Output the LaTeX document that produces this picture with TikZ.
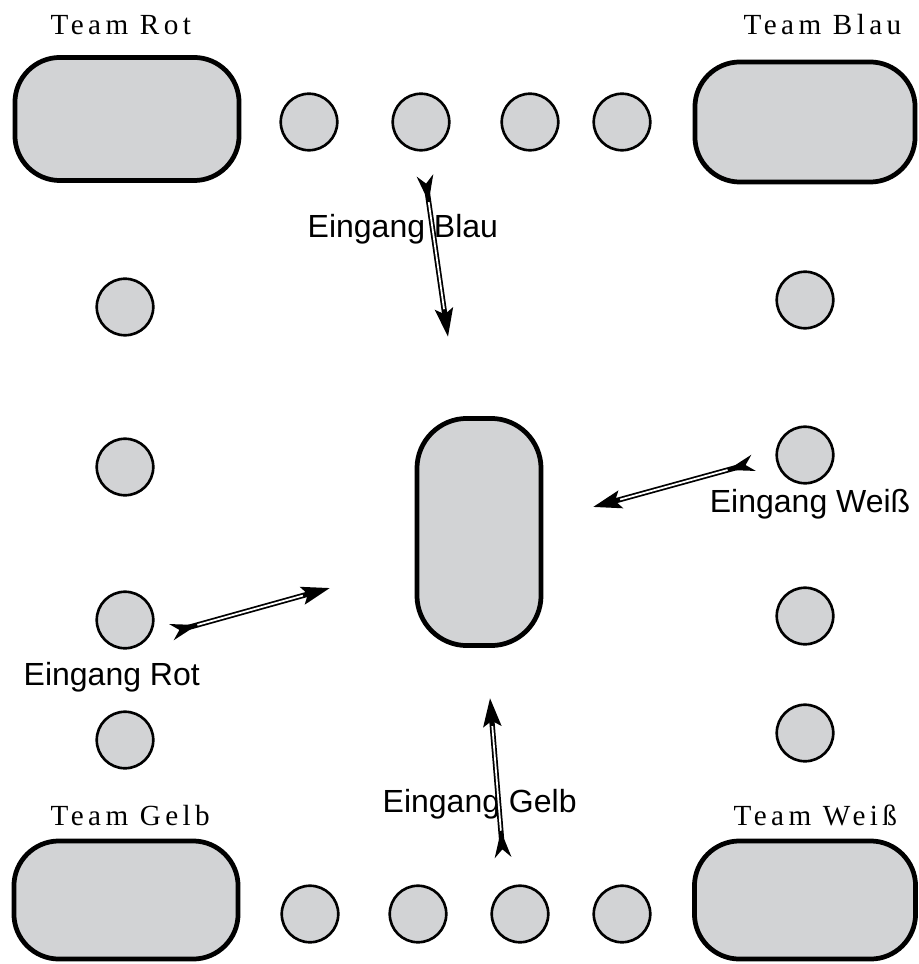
\documentclass[tikz,border=0pt]{standalone}
\usepackage{fontspec}
\usetikzlibrary{arrows.meta}
\newfontfamily\labelfont{Liberation Sans}
\newfontfamily\teamfont[LetterSpace=15]{Liberation Serif}
\definecolor{seatgray}{RGB}{210,211,213}

\begin{document}
\begin{tikzpicture}[x=0.01cm,y=-0.01cm,
    team/.style={draw, line width=1.35pt, fill=seatgray, rounded corners=0.45cm,
      minimum width=2.24cm, minimum height=1.23cm, inner sep=0pt},
    seat/.style={circle, draw, line width=0.75pt, fill=seatgray,
      minimum size=0.565cm, inner sep=0pt},
    teamname/.style={anchor=base west, inner sep=0pt,
      font=\teamfont\fontsize{8.3}{10}\selectfont},
    entryname/.style={anchor=base west, inner sep=0pt,
      font=\labelfont\fontsize{9.1}{11}\selectfont},
    entry/.style={line width=1.5pt,
      arrows={Stealth[reversed,length=7.5pt,width=4.6pt,inset=2.2pt]-Stealth[length=8pt,width=5pt,inset=1.5pt]}},
    entrygap/.style={white, line width=0.5pt, shorten <=7.5pt, shorten >=8pt}]
            \useasboundingbox (0,0) rectangle (919,964);
            % Tische der Teams
            \node[team] (rot) at (127,119) {};
            \node[team, minimum width=2.20cm, minimum height=1.20cm] (blau) at (805,122) {};
            \node[team, minimum height=1.18cm] (gelb) at (126,900) {};
            \node[team, minimum width=2.21cm, minimum height=1.18cm] (weiss) at (805,900) {};
            \node[team, rounded corners=0.5cm, minimum width=1.24cm, minimum height=2.27cm] (mitte) at (479,532) {};
            % Plaetze
            \foreach \x [count=\i] in {309,421,530,622}
                \node[seat] (oben\i) at (\x,122) {};
            \foreach \x [count=\i] in {310,418,520,622}
                \node[seat] (unten\i) at (\x,914) {};
            \foreach \y [count=\i] in {307,467,620,740}
                \node[seat] (links\i) at (125,\y) {};
            \foreach \y [count=\i] in {300,455,616,733}
                \node[seat] (rechts\i) at (805,\y) {};
            % Beschriftungen
            \node[teamname] (tRot) at (50,35) {Team Rot};
            \node[teamname] (tBlau) at (743,35) {Team Blau};
            \node[teamname] (tGelb) at (50,825) {Team Gelb};
            \node[teamname] (tWeiss) at (733,825) {Team Weiß};
            \node[entryname] (eBlau) at (307,238) {Eingang Blau};
            \node[entryname] (eRot) at (23,685) {Eingang Rot};
            \node[entryname, anchor=base east] (eWeiss) at (911,512) {Eingang Weiß};
            \node[entryname] (eGelb) at (382,812) {Eingang Gelb};
            % Eingaenge
            \coordinate (blauA) at (425,176);
            \coordinate (blauB) at (448,337);
            \coordinate (rotA) at (172,632);
            \coordinate (rotB) at (330,588);
            \coordinate (weissA) at (753,463);
            \coordinate (weissB) at (593,507);
            \coordinate (gelbA) at (503,857);
            \coordinate (gelbB) at (490,698);
            \foreach \e in {blau,rot,weiss,gelb} {
                \draw[entry] (\e A) -- (\e B);
                \draw[entrygap] (\e A) -- (\e B);
            }
        \end{tikzpicture}
\end{document}
